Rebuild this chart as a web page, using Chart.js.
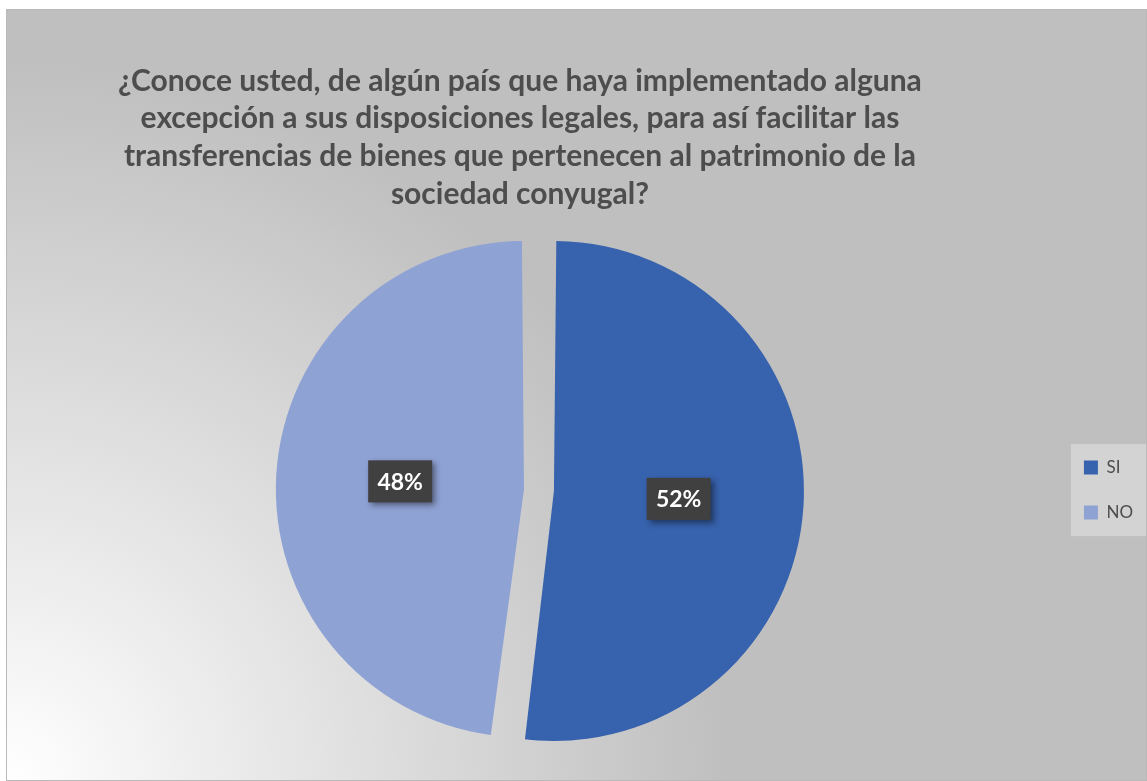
<!DOCTYPE html>
<html lang="es">
<head>
  <meta charset="UTF-8" />
  <title>Conoce usted algún país</title>
  <script src="https://cdn.jsdelivr.net/npm/chart.js"></script>
  <style>
    html, body {
      margin: 0;
      padding: 0;
      background: #ffffff;
      width: 1147px;
      height: 781px;
      overflow: hidden;
    }
    #marco {
      position: absolute;
      left: 6px;
      top: 9px;
      width: 1141px;
      height: 772px;
      box-sizing: border-box;
      border: 1px solid #b9b9b9;
      background: radial-gradient(circle 720px at 0% 100%, #ffffff 0%, #bfbfbf 100%);
    }
    #grafico {
      display: block;
    }
  </style>
</head>
<body>
  <div id="marco">
    <canvas id="grafico" width="1139" height="770"></canvas>
  </div>

  <script>
    // datos del gráfico
    const categorias = ['SI', 'NO'];
    const valores = [52, 48];
    const colores = ['#3762ad', '#8fa2d4'];
    const titulo = [
      '¿Conoce usted, de algún país que haya implementado alguna',
      'excepción a sus disposiciones legales, para así facilitar las',
      'transferencias de bienes que pertenecen al patrimonio de la',
      'sociedad conyugal?'
    ];

    const colorTexto = '#4d4d4d';

    // mueve el título un poco a la izquierda, como en el original
    const moverTitulo = {
      id: 'moverTitulo',
      afterLayout(chart) {
        const t = chart.titleBlock;
        if (t) {
          t.left -= 19;
          t.right -= 19;
        }
      }
    };

    // caja gris clara detrás de la leyenda
    const fondoLeyenda = {
      id: 'fondoLeyenda',
      beforeDraw(chart) {
        const cajas = chart.legend && chart.legend.legendHitBoxes;
        if (!cajas || !cajas.length) return;
        const ctx = chart.ctx;
        const izq = Math.min(...cajas.map(c => c.left)) - 13;
        const der = Math.max(...cajas.map(c => c.left + c.width)) + 13;
        const arr = Math.min(...cajas.map(c => c.top)) - 15;
        const abj = Math.max(...cajas.map(c => c.top + c.height)) + 15;
        ctx.save();
        ctx.fillStyle = '#d3d3d3';
        ctx.fillRect(izq, arr, der - izq, abj - arr);
        ctx.restore();
      }
    };

    // etiquetas de porcentaje en cajas oscuras
    const etiquetas = {
      id: 'etiquetas',
      afterDatasetsDraw(chart) {
        const ctx = chart.ctx;
        const meta = chart.getDatasetMeta(0);
        const total = valores.reduce((a, b) => a + b, 0);
        meta.data.forEach((arco, i) => {
          const p = arco.getProps(['x', 'y', 'startAngle', 'endAngle', 'outerRadius', 'circumference']);
          const medio = (p.startAngle + p.endAngle) / 2;
          // mismo desplazamiento que usa ArcElement al dibujar
          const desp = (arco.options.offset || 0) / 4;
          const extra = desp * (1 - Math.sin(Math.min(Math.PI, p.circumference)));
          const r = (p.outerRadius + extra) / 2 + desp;
          const x = p.x + Math.cos(medio) * r;
          const y = p.y + Math.sin(medio) * r;
          const texto = Math.round(valores[i] / total * 100) + '%';
          const w = 64, h = 42;

          ctx.save();
          ctx.shadowColor = 'rgba(0,0,0,0.45)';
          ctx.shadowBlur = 6;
          ctx.shadowOffsetX = 3;
          ctx.shadowOffsetY = 3;
          ctx.fillStyle = '#404040';
          ctx.fillRect(x - w / 2, y - h / 2, w, h);
          ctx.restore();

          ctx.save();
          ctx.fillStyle = '#ffffff';
          ctx.font = 'bold 23px Lato';
          ctx.textAlign = 'center';
          ctx.textBaseline = 'middle';
          ctx.fillText(texto, x, y + 1);
          ctx.restore();
        });
      }
    };

    const ctx = document.getElementById('grafico').getContext('2d');
    new Chart(ctx, {
      type: 'pie',
      data: {
        labels: categorias,
        datasets: [{
          data: valores,
          backgroundColor: colores,
          borderWidth: 0,
          offset: 60
        }]
      },
      options: {
        responsive: false,
        animation: false,
        radius: 235,
        layout: {
          padding: { left: 15, right: 3, top: 0, bottom: 13 }
        },
        plugins: {
          title: {
            display: true,
            fullSize: false,
            text: titulo,
            color: colorTexto,
            font: { family: 'Lato', weight: 'bold', size: 30, lineHeight: 1.26 },
            padding: { top: 52, bottom: 0 }
          },
          legend: {
            position: 'right',
            fullSize: false,
            labels: {
              color: colorTexto,
              font: { family: 'Lato', size: 17 },
              boxWidth: 14,
              boxHeight: 14,
              padding: 28
            }
          },
          tooltip: { enabled: false }
        }
      },
      plugins: [moverTitulo, fondoLeyenda, etiquetas]
    });
  </script>
</body>
</html>
